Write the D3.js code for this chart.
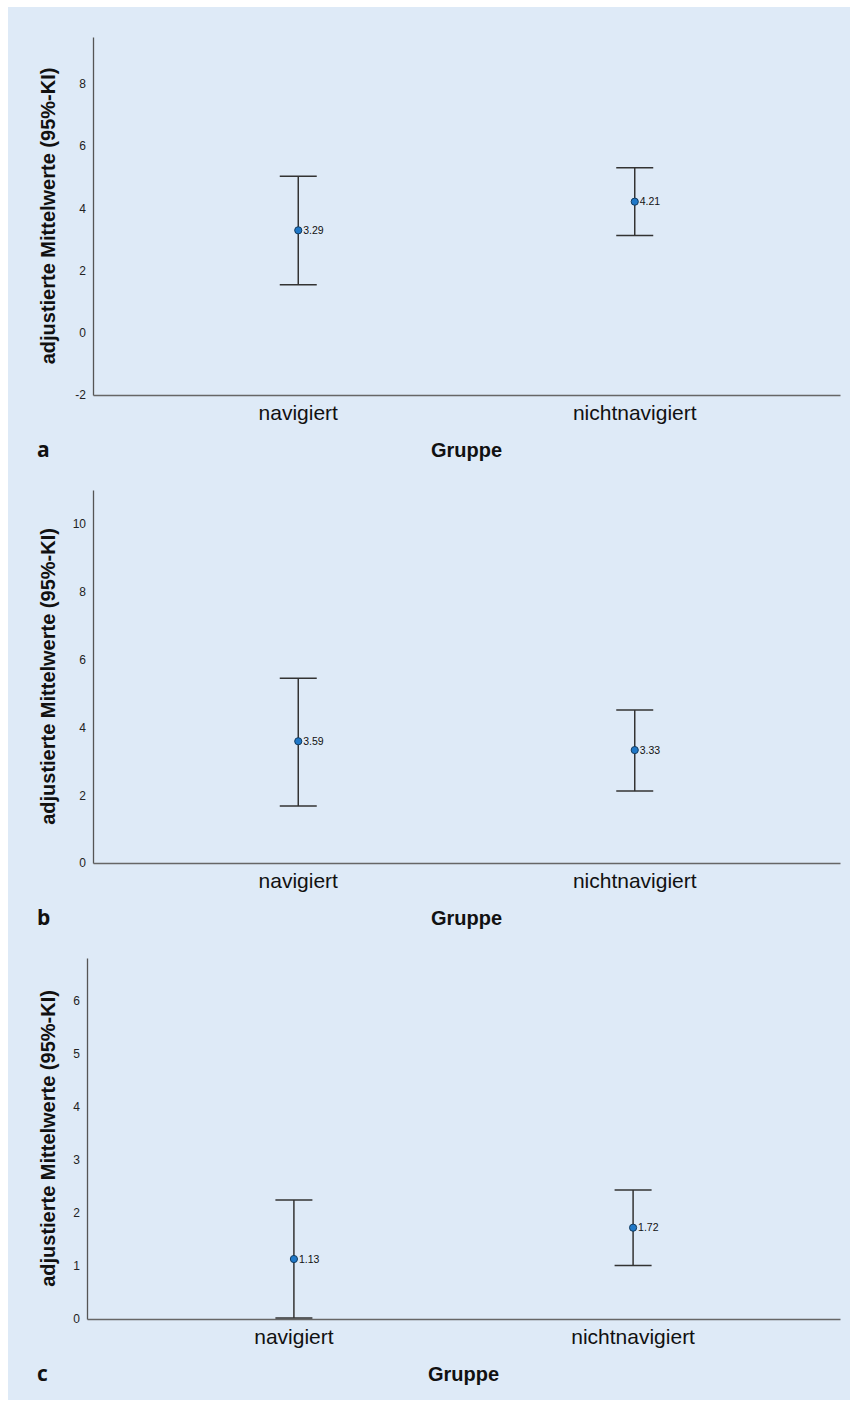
<!DOCTYPE html>
<html>
<head>
<meta charset="utf-8">
<script src="https://d3js.org/d3.v7.min.js"></script>
<style>
  body { margin: 0; background: #fff; font-family: "Liberation Sans", Arial, sans-serif; }
  .tick text { font-size: 12px; fill: #222; font-family: "Liberation Sans", Arial, sans-serif; }
  .cat { font-size: 21px; fill: #111; }
  .ytitle, .xtitle { font-weight: bold; fill: #111; }
  .plabel { font-weight: bold; fill: #111; font-family: "Open Sans", "Noto Sans", sans-serif; }
</style>
</head>
<body>
<div id="chart"></div>
<script>
// groups on the x axis
var groups = ["navigiert", "nichtnavigiert"];

// panel a
var meanA = [3.29, 4.21];
var lowA  = [1.54, 3.12];
var highA = [5.03, 5.30];
var ticksA = [-2, 0, 2, 4, 6, 8];

// panel b
var meanB = [3.59, 3.33];
var lowB  = [1.68, 2.12];
var highB = [5.45, 4.51];
var ticksB = [0, 2, 4, 6, 8, 10];

// panel c
var meanC = [1.13, 1.72];
var lowC  = [0.02, 1.01];
var highC = [2.24, 2.43];
var ticksC = [0, 1, 2, 3, 4, 5, 6];

var W = 858, H = 1407;

var svg = d3.select("#chart").append("svg")
    .attr("width", W)
    .attr("height", H);

// light blue panel background
svg.append("rect")
    .attr("x", 8).attr("y", 7)
    .attr("width", 842).attr("height", 1393)
    .style("fill", "#deeaf7");

var panels = [
  {label: "a", mean: meanA, low: lowA, high: highA, ticks: ticksA, domain: [-2, 9.5],
   left: 93, right: 840, top: 37, bottom: 395},
  {label: "b", mean: meanB, low: lowB, high: highB, ticks: ticksB, domain: [0, 11],
   left: 93, right: 840, top: 490, bottom: 863},
  {label: "c", mean: meanC, low: lowC, high: highC, ticks: ticksC, domain: [0, 6.8],
   left: 87, right: 840, top: 958, bottom: 1319}
];

panels.forEach(function(p) {
  var g = svg.append("g");

  var x = d3.scalePoint()
      .domain(groups)
      .range([p.left, p.right])
      .padding(0.61);

  var y = d3.scaleLinear()
      .domain(p.domain)
      .range([p.bottom, p.top]);

  // y axis (no tick marks, SPSS style)
  var yAxis = g.append("g")
      .attr("transform", "translate(" + p.left + ",0)")
      .call(d3.axisLeft(y).tickValues(p.ticks).tickSize(0).tickPadding(7)
        .tickFormat(function(d) { return String(d); }));
  yAxis.select(".domain").style("stroke", "#555").style("stroke-width", 1.3);

  // x axis
  var xAxis = g.append("g")
      .attr("transform", "translate(0," + p.bottom + ")")
      .call(d3.axisBottom(x).tickSize(0).tickFormat(""));
  xAxis.select(".domain").style("stroke", "#666").style("stroke-width", 1.6);

  // category labels
  g.selectAll(".cat")
      .data(groups)
      .enter().append("text")
      .attr("class", "cat")
      .attr("x", function(d) { return x(d); })
      .attr("y", p.bottom + 25)
      .style("text-anchor", "middle")
      .text(function(d) { return d; });

  // axis titles
  g.append("text")
      .attr("class", "xtitle")
      .attr("x", (p.left + p.right) / 2)
      .attr("y", p.bottom + 62)
      .style("text-anchor", "middle")
      .style("font-size", "20px")
      .text("Gruppe");

  g.append("text")
      .attr("class", "ytitle")
      .attr("transform", "rotate(-90)")
      .attr("x", -(p.top + p.bottom) / 2)
      .attr("y", 55)
      .style("text-anchor", "middle")
      .style("font-size", "20px")
      .text("adjustierte Mittelwerte (95%-KI)");

  g.append("text")
      .attr("class", "plabel")
      .attr("x", 37)
      .attr("y", p.bottom + 62)
      .style("font-size", "21px")
      .text(p.label);

  var idx = d3.range(groups.length);

  // error bars
  g.selectAll(".whisker")
      .data(idx)
      .enter().append("line")
      .attr("x1", function(i) { return x(groups[i]); })
      .attr("x2", function(i) { return x(groups[i]); })
      .attr("y1", function(i) { return y(p.low[i]); })
      .attr("y2", function(i) { return y(p.high[i]); })
      .style("stroke", "#333").style("stroke-width", 1.5);

  ["low", "high"].forEach(function(k) {
    g.selectAll(".cap-" + k)
        .data(idx)
        .enter().append("line")
        .attr("x1", function(i) { return x(groups[i]) - 18.5; })
        .attr("x2", function(i) { return x(groups[i]) + 18.5; })
        .attr("y1", function(i) { return y(p[k][i]); })
        .attr("y2", function(i) { return y(p[k][i]); })
        .style("stroke", "#333").style("stroke-width", 1.5);
  });

  // means
  g.selectAll(".dot")
      .data(idx)
      .enter().append("circle")
      .attr("cx", function(i) { return x(groups[i]); })
      .attr("cy", function(i) { return y(p.mean[i]); })
      .attr("r", 3.6)
      .style("fill", "#1f78c8")
      .style("stroke", "#123a5e")
      .style("stroke-width", 1);

  g.selectAll(".val")
      .data(idx)
      .enter().append("text")
      .attr("x", function(i) { return x(groups[i]) + 5; })
      .attr("y", function(i) { return y(p.mean[i]); })
      .attr("dy", "0.35em")
      .style("font-size", "10.5px")
      .style("fill", "#111")
      .text(function(i) { return p.mean[i].toFixed(2); });
});
</script>
</body>
</html>
